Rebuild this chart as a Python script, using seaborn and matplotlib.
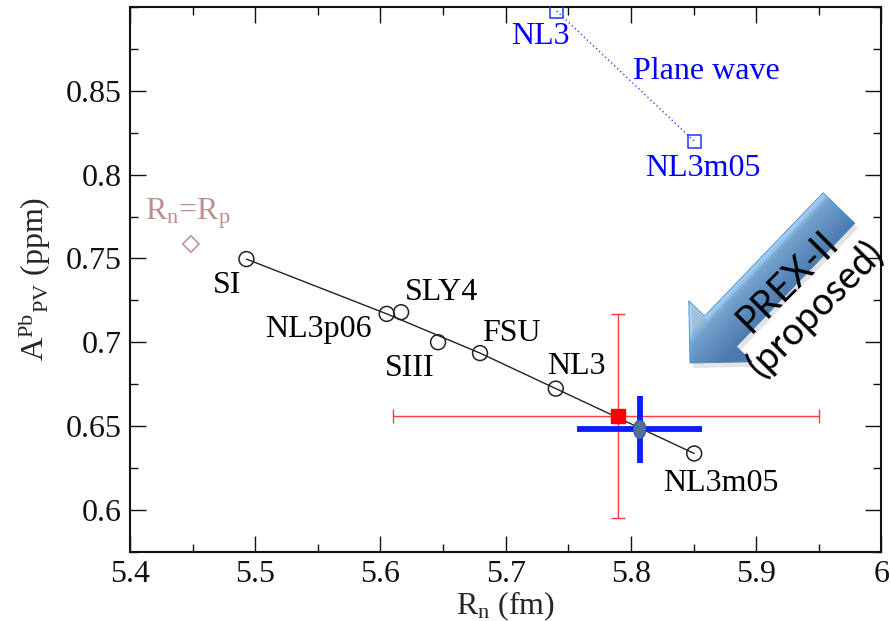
import numpy as np
import pandas as pd
import matplotlib
matplotlib.use("Agg")
import matplotlib.pyplot as plt
import seaborn as sns
from matplotlib.patches import Polygon, Ellipse
from matplotlib.colors import LinearSegmentedColormap
from matplotlib.ticker import MultipleLocator, FixedLocator, FixedFormatter

# ---- distorted-wave model predictions ----
models = ["SI", "NL3p06", "SLY4", "SIII", "FSU", "NL3", "NL3m05"]
rn_fm = [5.493, 5.605, 5.6165, 5.646, 5.6795, 5.740, 5.8505]
apv_ppm = [0.7496, 0.7169, 0.7179, 0.700, 0.6935, 0.6723, 0.6336]
on_curve = [True, True, False, False, True, True, True]
# label offsets in pixels (dx right, dy down) from each marker to the label baseline
label_dx = [-19, -68, 40, -28, 31, 21, 27]
label_dy = [34, 23, -12, 34, -12, -15, 38]

# ---- plane-wave predictions ----
pw_models = ["NL3", "NL3m05"]
pw_rn = [5.7407, 5.851]
pw_apv = [0.8976, 0.8196]
pw_dx = [-16, 8]
pw_dy = [33, 34]

# ---- Rn = Rp reference point ----
eq_rn = [5.4487]
eq_apv = [0.7586]

# ---- PREX measurement ----
prex_rn = 5.790
prex_rn_err = (0.18, 0.16)
prex_apv = 0.656
prex_apv_err = 0.061

# ---- PREX-II projected precision ----
prex2_rn = 5.807
prex2_rn_err = 0.050
prex2_apv = 0.648
prex2_apv_err = 0.020

x_ticks = [5.4, 5.5, 5.6, 5.7, 5.8, 5.9, 6.0]
x_ticklabels = ["5.4", "5.5", "5.6", "5.7", "5.8", "5.9", "6"]
y_ticks = [0.6, 0.65, 0.7, 0.75, 0.8, 0.85]
y_ticklabels = ["0.6", "0.65", "0.7", "0.75", "0.8", "0.85"]

W, H = 890, 621

sns.set_style("ticks")
plt.rcParams.update({
    "font.family": ["Liberation Serif", "DejaVu Serif"],
    "mathtext.fontset": "custom",
    "mathtext.rm": "Liberation Serif",
    "mathtext.it": "Liberation Serif:italic",
    "mathtext.bf": "Liberation Serif:bold",
    "xtick.direction": "in", "ytick.direction": "in",
    "xtick.top": True, "ytick.right": True,
    "xtick.major.size": 11.5, "ytick.major.size": 11.5,
    "xtick.minor.size": 6, "ytick.minor.size": 6,
    "xtick.major.width": 1.0, "ytick.major.width": 1.0,
    "xtick.minor.width": 1.0, "ytick.minor.width": 1.0,
    "xtick.color": "#111111", "ytick.color": "#111111",
    "axes.linewidth": 1.5, "axes.edgecolor": "#111111",
})

df = pd.DataFrame({"model": models, "rn": rn_fm, "apv": apv_ppm, "on_curve": on_curve})
pw = pd.DataFrame({"model": pw_models, "rn": pw_rn, "apv": pw_apv})
eq = pd.DataFrame({"rn": eq_rn, "apv": eq_apv})

fig, ax = plt.subplots(figsize=(W / 100, H / 100), dpi=100)
fig.subplots_adjust(left=0.146, right=0.9904, bottom=0.1116, top=0.9887)

FS = 23

# model curve and points
sns.lineplot(data=df[df["on_curve"]], x="rn", y="apv", color="#222222", lw=1.0,
             ax=ax, zorder=2)
sns.scatterplot(data=df, x="rn", y="apv", marker="o", s=115, color="black",
                facecolor="none", edgecolor="#222222", linewidth=1.1, ax=ax, zorder=3)
for name, x, y, dx, dy in zip(models, rn_fm, apv_ppm, label_dx, label_dy):
    ax.annotate(name, (x, y), xytext=(dx, -dy), textcoords="offset pixels",
                ha="center", va="baseline", fontsize=FS, color="black")

# plane-wave points
sns.lineplot(data=pw, x="rn", y="apv", color="#3344ff", lw=1.0, linestyle=(0, (1, 2)),
             ax=ax, zorder=2)
sns.scatterplot(data=pw, x="rn", y="apv", marker="s", s=88, color="blue",
                facecolor="none", edgecolor="#2233ff", linewidth=1.1, ax=ax, zorder=3)
for name, x, y, dx, dy in zip(pw_models, pw_rn, pw_apv, pw_dx, pw_dy):
    ax.annotate(name, (x, y), xytext=(dx, -dy), textcoords="offset pixels",
                ha="center", va="baseline", fontsize=FS, color="blue")
ax.text(5.86, 0.8568, "Plane wave", ha="center", va="baseline", fontsize=FS, color="blue")

# Rn = Rp
sns.scatterplot(data=eq, x="rn", y="apv", marker="D", s=70, color="rosybrown",
                facecolor="none", edgecolor="rosybrown", linewidth=1.1, ax=ax, zorder=3)
ax.annotate(r"R$\mathrm{_n}$=R$\mathrm{_p}$", (eq_rn[0], eq_apv[0]), xytext=(-3, 24),
            textcoords="offset pixels", ha="center", va="baseline", fontsize=FS,
            color="rosybrown")

# PREX result
ax.errorbar(prex_rn, prex_apv, xerr=[[prex_rn_err[0]], [prex_rn_err[1]]],
            yerr=prex_apv_err, fmt="s", ms=10, color="red", mec="red",
            ecolor="#ff3b3b", elinewidth=1.0, capsize=5, capthick=1.0, zorder=4)

# PREX-II projection
ax.errorbar(prex2_rn, prex2_apv, xerr=prex2_rn_err, yerr=prex2_apv_err, fmt="none",
            ecolor="#0a1eff", elinewidth=4.2, capsize=0, zorder=5)
ax.add_patch(Ellipse((prex2_rn, prex2_apv), width=12 / 1252, height=18 / 1677,
                     facecolor="#50709e", edgecolor="#3d5f92", lw=1.0, zorder=6))

ax.set_xlim(5.4, 6.0)
ax.set_ylim(0.575, 0.9)
ax.xaxis.set_major_locator(FixedLocator(x_ticks))
ax.xaxis.set_major_formatter(FixedFormatter(x_ticklabels))
ax.yaxis.set_major_locator(FixedLocator(y_ticks))
ax.yaxis.set_major_formatter(FixedFormatter(y_ticklabels))
ax.xaxis.set_minor_locator(MultipleLocator(0.05))
ax.yaxis.set_minor_locator(MultipleLocator(0.025))
ax.tick_params(axis="x", which="major", labelsize=FS, pad=6)
ax.tick_params(axis="y", which="major", labelsize=FS, pad=6)
for s in ax.spines.values():
    s.set_visible(True)

ax.set_xlabel(r"R$\mathrm{_n}$ (fm)", fontsize=FS, labelpad=0)
ax.set_ylabel(r"A$\mathrm{^{Pb}{}_{PV}}$ (ppm)", fontsize=FS, labelpad=9)

# ---- "PREX-II (proposed)" arrow drawn in figure pixel space ----
ov = fig.add_axes([0, 0, 1, 1], zorder=10)
ov.patch.set_alpha(0)
ov.axis("off")

tip = np.array([690.0, 363.0])
back = np.array([839.0, 208.0])
b = (back - tip) / np.linalg.norm(back - tip)
nrm = np.array([-b[1], b[0]])
head_len, head_half, shaft_half = 44.0, 44.0, 22.0
base = tip + head_len * b
verts = np.array([
    tip,
    base - head_half * nrm,
    base - shaft_half * nrm,
    back - shaft_half * nrm,
    back + shaft_half * nrm,
    base + shaft_half * nrm,
    base + head_half * nrm,
])

shadow = Polygon(verts + np.array([3.0, 5.0]), closed=True, facecolor="#808080",
                 edgecolor="none", alpha=0.22)
ov.add_patch(shadow)
body = Polygon(verts, closed=True, facecolor="none", edgecolor="#4a86c6", lw=0.6)
ov.add_patch(body)

gx0, gx1, gy0, gy1 = 660, 880, 170, 390
gxs = np.linspace(gx0, gx1, 440)
gys = np.linspace(gy0, gy1, 440)
GX, GY = np.meshgrid(gxs, gys)
perp = (GX - tip[0]) * nrm[0] + (GY - tip[1]) * nrm[1]
t = np.clip((perp + shaft_half) / (2 * shaft_half), 0, 1)
cmap = LinearSegmentedColormap.from_list(
    "bevel", [(0.0, "#a9d3f5"), (0.22, "#6eaae0"), (0.6, "#5593d2"), (1.0, "#3f79bb")])
im = ov.imshow(t, extent=[gx0, gx1, gy1, gy0], origin="upper", cmap=cmap,
               vmin=0, vmax=1, aspect="auto", interpolation="bilinear")
im.set_clip_path(body)

ov.text(801.5, 295.5, "PREX-II\n(proposed)", rotation=45, rotation_mode="anchor",
        ha="center", va="center", multialignment="center", fontsize=27,
        family=["Lato", "DejaVu Sans"], color="black", linespacing=1.05)

ov.set_xlim(0, W)
ov.set_ylim(H, 0)

fig.savefig("out.png", dpi=100)
